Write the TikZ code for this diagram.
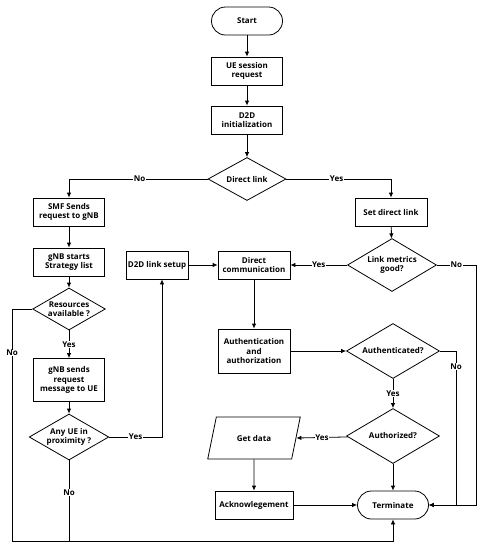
\documentclass[tikz,border=0pt]{standalone}
\usepackage{fontspec}
\setmainfont{Open Sans}
\usetikzlibrary{shapes.geometric,arrows.meta}

\begin{document}
\begin{tikzpicture}[
      x=1pt, y=-1pt,
      font=\fontsize{8}{9.5}\selectfont\bfseries,
      box/.style={draw, thick, align=center, inner sep=1pt, minimum width=71pt, minimum height=28pt},
      terminal/.style={box, rounded corners=14pt},
      decision/.style={draw, thick, diamond, align=center, inner sep=0pt, aspect=2},
      io/.style={draw, thick, trapezium, trapezium left angle=70, trapezium right angle=110,
        trapezium stretches=true, align=center, minimum width=93pt, minimum height=42pt},
      edge/.style={thick, -{Latex[length=5pt,width=4.5pt]}},
      plain edge/.style={thick},
      lbl/.style={fill=white, inner sep=0.5pt}
    ]
    \useasboundingbox (0,0) rectangle (482,550);
    \node[terminal] (start) at (247,21) {Start};
    \node[box] (req) at (247,71) {UE session\\request};
    \node[box] (init) at (247,120) {D2D\\initialization};
    \node[decision, minimum width=78pt, minimum height=43pt] (direct) at (247,179) {Direct link};
    \node[box] (smf) at (69,212) {SMF Sends\\request to gNB};
    \node[box] (strat) at (69,262) {gNB starts\\Strategy list};
    \node[decision, minimum width=71pt, minimum height=42pt] (res) at (69,309) {Resources\\available ?};
    \node[box, minimum height=43pt] (sends) at (69,380) {gNB sends\\request\\message to UE};
    \node[decision, minimum width=78pt, minimum height=46pt] (anyue) at (69,437) {Any UE in\\proximity ?};
    \node[box, minimum width=62pt] (setup) at (157,265) {D2D link setup};
    \node[box, minimum width=72pt] (comm) at (254,265) {Direct\\communication};
    \node[box, minimum width=72pt] (setlink) at (391,212) {Set direct link};
    \node[decision, minimum width=89pt, minimum height=53pt] (metrics) at (392,265) {Link metrics\\good?};
    \node[box, minimum width=72pt, minimum height=44pt] (auth) at (254,351) {Authentication\\and\\authorization};
    \node[decision, minimum width=93pt, minimum height=55pt] (authd) at (393,351) {Authenticated?};
    \node[decision, minimum width=93pt, minimum height=55pt] (authz) at (393,436) {Authorized?};
    \node[io] (getdata) at (254,438) {Get data};
    \node[box, minimum width=78pt] (ack) at (254,505) {Acknowlegement};
    \node[terminal] (term) at (393,505) {Terminate};
    \coordinate (upyes) at (162,437);
    \coordinate (farright) at (476,265);
    \coordinate (nearright) at (456,351);
    \coordinate (farleft) at (12,309);
    \coordinate (bottom) at (393,541);
    \draw[edge] (start) -- (req);
    \draw[edge] (req) -- (init);
    \draw[edge] (init) -- (direct);
    \draw[edge] (direct.west) -| node[lbl, pos=0.245] {No} (smf.north);
    \draw[edge] (direct.east) -| node[lbl, pos=0.24] {Yes} (setlink.north);
    \draw[edge] (smf) -- (strat);
    \draw[edge] (strat) -- (res);
    \draw[edge] (res) -- node[lbl] {Yes} (sends);
    \draw[edge] (sends) -- (anyue);
    \draw[edge] (anyue.east) -- node[lbl, pos=0.5] {Yes} (upyes) -- (upyes |- setup.south);
    \draw[edge] (setup) -- (comm);
    \draw[edge] (setlink) -- (metrics);
    \draw[edge] (metrics) -- node[lbl] {Yes} (comm);
    \draw[edge] (metrics.east) -- node[lbl, pos=0.5] {No} (farright) |- (term.east);
    \draw[edge] (comm) -- (auth);
    \draw[edge] (auth) -- (authd);
    \draw[edge] (authd.east) -- (nearright) |- node[lbl, pos=0.05] {No} (term.east);
    \draw[edge] (authd) -- node[lbl] {Yes} (authz);
    \draw[edge] (authz) -- node[lbl] {Yes} (getdata.east);
    \draw[edge] (getdata) -- (ack);
    \draw[edge] (ack) -- (term);
    \draw[edge] (authz) -- (term);
    \draw[edge] (res.west) -- (farleft) -- node[lbl, pos=0.19] {No} (farleft |- bottom) -- (bottom) -- (term.south);
    \draw[plain edge] (anyue.south) -- node[lbl, pos=0.4] {No} (anyue.south |- bottom);
    \end{tikzpicture}
\end{document}
